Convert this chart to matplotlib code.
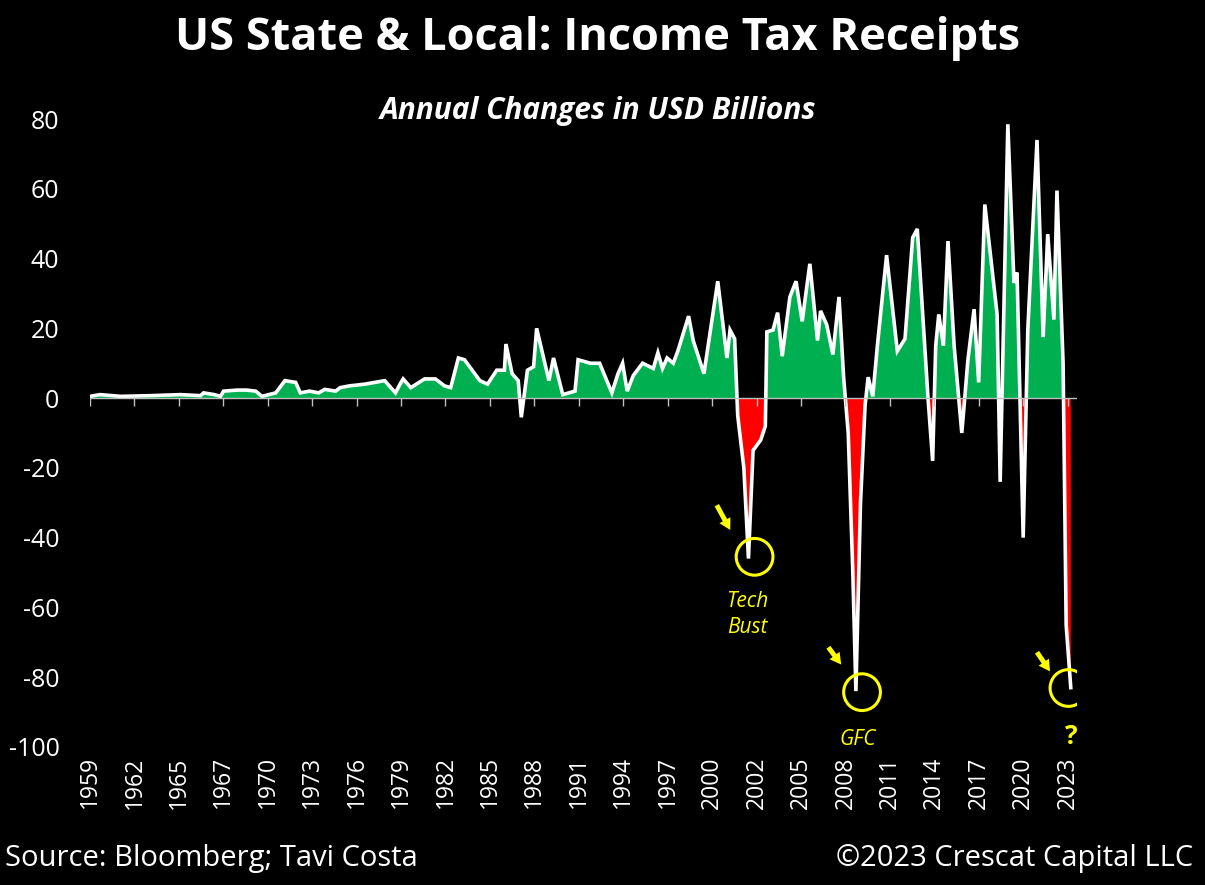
import matplotlib
matplotlib.use("Agg")
import matplotlib.pyplot as plt
import numpy as np

plt.rcParams['font.family'] = ['Open Sans', 'DejaVu Sans']

# decimal year, annual change in USD bn
years = [1959.0, 1959.65, 1961.0, 1962.9, 1964.9, 1966.2, 1966.4, 1967.1, 1967.5, 1967.7,
         1968.6, 1969.2, 1969.8, 1970.2, 1971.1, 1971.7, 1972.4, 1972.7, 1973.3, 1973.9,
         1974.3, 1975.0, 1975.3, 1975.9, 1976.9, 1978.2, 1978.9, 1979.2, 1979.4, 1979.9,
         1980.8, 1981.5, 1982.1, 1982.5, 1983.0, 1983.4, 1984.4, 1984.9, 1985.5, 1986.0,
         1986.1, 1986.5, 1986.9, 1987.1, 1987.5, 1987.9, 1988.1, 1988.9, 1989.2, 1989.8,
         1990.6, 1990.8, 1991.6, 1992.2, 1993.0, 1993.4, 1993.7, 1994.0, 1994.4, 1995.0,
         1995.7, 1996.0, 1996.3, 1996.6, 1997.0, 1997.3, 1998.0, 1998.3, 1999.0, 1999.9,
         2000.5, 2000.7, 2001.0, 2001.2, 2001.6, 2001.9, 2002.2, 2002.7, 2003.0, 2003.1,
         2003.5, 2003.8, 2004.1, 2004.6, 2005.0, 2005.4, 2005.9, 2006.4, 2006.6, 2007.0,
         2007.4, 2007.8, 2008.1, 2008.4, 2008.7, 2008.9, 2009.2, 2009.5, 2009.7, 2010.0,
         2010.3, 2010.9, 2011.6, 2012.1, 2012.6, 2012.9, 2013.6, 2013.9, 2014.1, 2014.3,
         2014.6, 2014.9, 2015.3, 2015.8, 2016.2, 2016.6, 2016.9, 2017.3, 2018.1, 2018.3,
         2018.8, 2019.2, 2019.4, 2019.8, 2020.1, 2020.7, 2021.1, 2021.4, 2021.8, 2022.0,
         2022.4, 2022.6, 2022.9]
values = [0.5, 1, 0.5, 0.7, 1, 0.7, 1.5, 1, 0.5, 2,
          2.3, 2.3, 2, 0.5, 1.5, 5, 4.5, 1.5, 2, 1.5,
          2.5, 2, 3, 3.5, 4, 5, 1.5, 4, 5.5, 3,
          5.5, 5.5, 3.5, 3, 11.5, 11, 5, 4, 8, 8,
          15.5, 7, 5, -5.5, 8, 9, 20, 5, 11.5, 1,
          2, 11, 10, 10, 1.5, 7, 10, 2, 6.5, 10,
          8.5, 13, 8.5, 11.5, 10, 13.5, 23.5, 16.5, 7, 33.5,
          11.5, 19.5, 17, -5, -20, -46, -15, -12, -8, 19,
          19.5, 24.5, 12, 29, 33.5, 22, 38.5, 16.5, 25, 21,
          12.5, 29, 6, -10, -50, -84, -30, -2, 6, 0.5,
          15, 41, 13.5, 17, 46, 48.5, 0, -18, 15, 24,
          15, 45, 15, -10, 11, 25.5, 4.5, 55.5, 24, -24,
          78.5, 33, 36, -40, 19.5, 74, 17.5, 47, 22.5, 59.5,
          10, -65, -83]

tick_labels = ['1959', '1962', '1965', '1967', '1970', '1973', '1976', '1979', '1982',
               '1985', '1988', '1991', '1994', '1997', '2000', '2002', '2005', '2008',
               '2011', '2014', '2017', '2020', '2023']
yticks = [80, 60, 40, 20, 0, -20, -40, -60, -80, -100]

x = np.array(years)
y = np.array(values)

fig = plt.figure(figsize=(12.05, 8.85), dpi=100, facecolor='black')
ax = fig.add_axes([0.0747, 0.156, 0.819, 0.7095])
ax.set_facecolor('black')

ax.fill_between(x, y, 0, where=y >= 0, interpolate=True, color='#00B050', lw=0)
ax.fill_between(x, y, 0, where=y <= 0, interpolate=True, color='#FF0000', lw=0)
ax.plot(x, y, color='white', lw=2.6, solid_joinstyle='miter')
ax.axhline(0, color='#bfbfbf', lw=1)

ax.set_xlim(1959, 2023.3)
ax.set_ylim(-100, 80)
for s in ax.spines.values():
    s.set_visible(False)

ax.set_yticks(yticks)
ax.set_yticklabels([str(v) for v in yticks])
ax.tick_params(axis='y', length=0, colors='white', labelsize=18, pad=22)

tick_pos = 1959 + np.arange(len(tick_labels)) * 2.895
ax.set_xticks([])
ax.vlines(tick_pos, -2.4, 0, color='#bfbfbf', lw=1)
for p, lab in zip(tick_pos, tick_labels):
    ax.text(p, -0.015, lab, transform=ax.get_xaxis_transform(), rotation=90,
            ha='center', va='top', color='white', fontsize=16.5)

# annotations
yel = '#FFFF00'
circ_x = [2002.3, 2009.3, 2022.75]
circ_y = [-45.5, -84.3, -83.1]
ax.scatter(circ_x, circ_y, s=700, facecolors='none', edgecolors=yel, linewidths=2.2, zorder=5)
arrows = [((1999.75, -30), (2000.8, -38.5)),
          ((2007.0, -70.8), (2008.05, -77)),
          ((2020.6, -72.2), (2021.65, -79))]
for start, end in arrows:
    ax.annotate('', xy=end, xytext=start,
                arrowprops=dict(arrowstyle='simple,head_width=0.9,head_length=0.8,tail_width=0.35',
                                color=yel, lw=0))
ax.text(2001.8, -62, 'Tech\nBust', color=yel, fontsize=15, style='italic',
        ha='center', va='center', linespacing=1.3)
ax.text(2009.0, -98, 'GFC', color=yel, fontsize=15, style='italic', ha='center', va='center')
ax.text(2022.9, -97, '?', color=yel, fontsize=19, weight='bold', ha='center', va='center')

fig.text(0.496, 0.957, 'US State & Local: Income Tax Receipts', color='white',
         fontsize=32.5, weight='bold', ha='center', va='center')
fig.text(0.496, 0.875, 'Annual Changes in USD Billions', color='white',
         fontsize=21.5, weight='bold', style='italic', ha='center', va='center')
fig.text(0.004, 0.03, 'Source: Bloomberg; Tavi Costa', color='white', fontsize=21,
         ha='left', va='center')
fig.text(0.99, 0.03, '\u00a92023 Crescat Capital LLC', color='white', fontsize=21,
         ha='right', va='center')

fig.savefig('out.png', dpi=100, facecolor='black')
